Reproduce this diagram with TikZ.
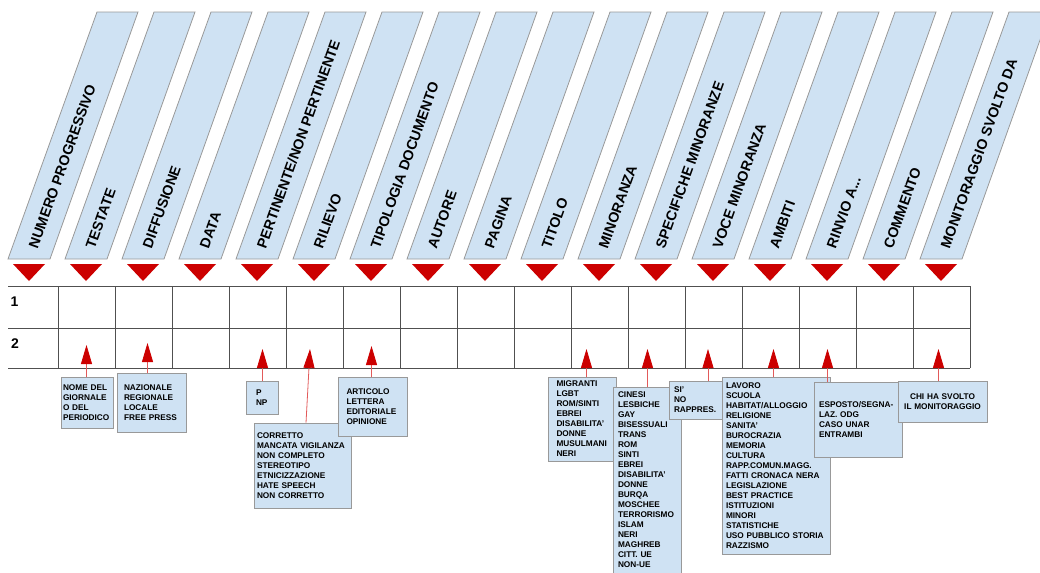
\documentclass[tikz,border=0pt]{standalone}
\usepackage{fontspec}
\setmainfont{Liberation Sans}
\usetikzlibrary{arrows.meta,calc}
\definecolor{hblue}{RGB}{207,226,243}
\definecolor{hgray}{RGB}{153,153,153}
\definecolor{tred}{RGB}{204,0,0}
\definecolor{lred}{RGB}{226,90,90}
\definecolor{gridc}{RGB}{80,80,80}
\newcommand\myrinvio{RINVIO A...}
\hyphenpenalty=10000
\tikzset{
  headshape/.style={fill=hblue,draw=hgray,line width=0.6pt},
  htext/.style={font=\fontsize{10.7}{12}\selectfont\bfseries,inner sep=0pt,anchor=west,rotate=70.2},
  tri/.style={fill=tred,draw=none},
  gridline/.style={draw=gridc,line width=0.7pt},
  rowlab/.style={font=\fontsize{10.5}{12}\selectfont\bfseries,inner sep=0pt},
  cbox/.style={fill=hblue,draw=hgray,line width=0.6pt,
    font=\fontsize{6.2}{7.5}\selectfont\bfseries,
    align=left,inner ysep=0pt},
  callarrow/.style={draw=lred,line width=0.6pt,
    -{Triangle[length=14.25pt,width=8.25pt,color=tred,fill=tred]}}
}
\begin{document}
\begin{tikzpicture}[x=0.75pt,y=-0.75pt]
\useasboundingbox (0,0) rectangle (1040,572);
\clip (0,0) rectangle (1040,572);
% header strips
\foreach \lab [count=\i from 0] in {NUMERO PROGRESSIVO,TESTATE,DIFFUSIONE,DATA,PERTINENTE/NON PERTINENTE,RILIEVO,TIPOLOGIA DOCUMENTO,AUTORE,PAGINA,TITOLO,MINORANZA,SPECIFICHE MINORANZE,VOCE MINORANZA,AMBITI,\myrinvio,COMMENTO,MONITORAGGIO SVOLTO DA}{
  \path[headshape] ({8+57*\i},259) -- ({50+57*\i},259) -- ({138+57*\i},12) -- ({97+57*\i},12) -- cycle;
  \node[htext] (h\i) at ({33+57*\i},248) {\lab};
  \path[tri] ({13+57*\i},264) -- ({45+57*\i},264) -- ({29+57*\i},281) -- cycle;
}
% table
\foreach \yy in {286,328,368}{\draw[gridline] (8,\yy) -- (970,\yy);}
\draw[gridline] (58,286) -- (58,368);
\foreach \i in {1,...,16}{\draw[gridline] ({58+57*\i},286) -- ({58+57*\i},368);}
\node[rowlab] (r1) at (14.5,302) {1};
\node[rowlab] (r2) at (15,343.5) {2};
% callout boxes
\node[cbox,minimum width=39pt,minimum height=38.25pt,text width=36pt,inner xsep=1.5pt] (b1) at (87,402.5)
  {NOME DEL\\GIORNALE\\O DEL\\PERIODICO};
\node[cbox,minimum width=51.75pt,minimum height=44.25pt,text width=41.25pt,inner xsep=5.25pt] (b2) at (151.5,402.5)
  {NAZIONALE\\REGIONALE\\LOCALE\\FREE PRESS};
\node[cbox,minimum width=24pt,minimum height=24.75pt,text width=9pt,inner xsep=7.5pt] (b3) at (262,397.5)
  {P\\NP};
\node[cbox,minimum width=72.75pt,minimum height=63.75pt,text width=68.25pt,inner xsep=2.25pt] (b4) at (302.5,465.5)
  {CORRETTO\\MANCATA VIGILANZA\\NON COMPLETO\\STEREOTIPO\\ETNICIZZAZIONE\\HATE SPEECH\\NON CORRETTO};
\node[cbox,minimum width=51.75pt,minimum height=44.25pt,text width=39pt,inner xsep=6.375pt] (b5) at (372.5,406.5)
  {ARTICOLO\\LETTERA\\EDITORIALE\\OPINIONE};
\node[cbox,minimum width=51pt,minimum height=63pt,text width=38.25pt,inner xsep=6.375pt] (b6) at (582,419)
  {MIGRANTI\\LGBT\\ROM/SINTI\\EBREI\\DISABILITA'\\DONNE\\MUSULMANI\\NERI};
\node[cbox,minimum width=51pt,minimum height=139.5pt,text width=43.5pt,inner xsep=3.75pt] (b7) at (647,480)
  {CINESI\\LESBICHE\\GAY\\BISESSUALI\\TRANS\\ROM\\SINTI\\EBREI\\DISABILITA'\\DONNE\\BURQA\\MOSCHEE\\TERRORISMO\\ISLAM\\NERI\\MAGHREB\\CITT. UE\\NON-UE};
\node[cbox,minimum width=39.75pt,minimum height=28.5pt,text width=32.25pt,inner xsep=3.75pt] (b8) at (695.5,400)
  {SI'\\NO\\RAPPRES.};
\node[cbox,minimum width=81pt,minimum height=132.75pt,text width=75pt,inner xsep=3pt] (b9) at (776,465.5)
  {LAVORO\\SCUOLA\\HABITAT/ALLOGGIO\\RELIGIONE\\SANITA'\\BUROCRAZIA\\MEMORIA\\CULTURA\\RAPP.COMUN.MAGG.\\FATTI CRONACA NERA\\LEGISLAZIONE\\BEST PRACTICE\\ISTITUZIONI\\MINORI\\STATISTICHE\\USO PUBBLICO STORIA\\RAZZISMO};
\node[cbox,minimum width=66pt,minimum height=56.25pt,text width=58.5pt,inner xsep=3.75pt] (b10) at (858,419.5)
  {ESPOSTO/SEGNA-\\LAZ. ODG\\CASO UNAR\\ENTRAMBI};
\node[cbox,align=center,minimum width=66.75pt,minimum height=30.75pt,text width=63.75pt,inner xsep=1.5pt] (b11) at (942.5,401.5)
  {CHI HA SVOLTO\\IL MONITORAGGIO};
% arrow tips
\coordinate (t1) at (86.5,345);
\coordinate (t2) at (147.5,343);
\coordinate (t3) at (262.5,349);
\coordinate (t4) at (310,349);
\coordinate (t5) at (371.5,346);
\coordinate (t6) at (586.5,349);
\coordinate (t7) at (647.5,349);
\coordinate (t8) at (708,349);
\coordinate (t9) at (773.5,349);
\coordinate (t10) at (827.5,349);
\coordinate (t11) at (938.5,349);
\foreach \k in {1,2,3,5,6,7,8,9,10,11}{\draw[callarrow] (t\k |- b\k.north) -- (t\k);}
\draw[callarrow] ($(b4.north west)!0.536!(b4.north east)$) -- (t4);
\end{tikzpicture}
\end{document}
